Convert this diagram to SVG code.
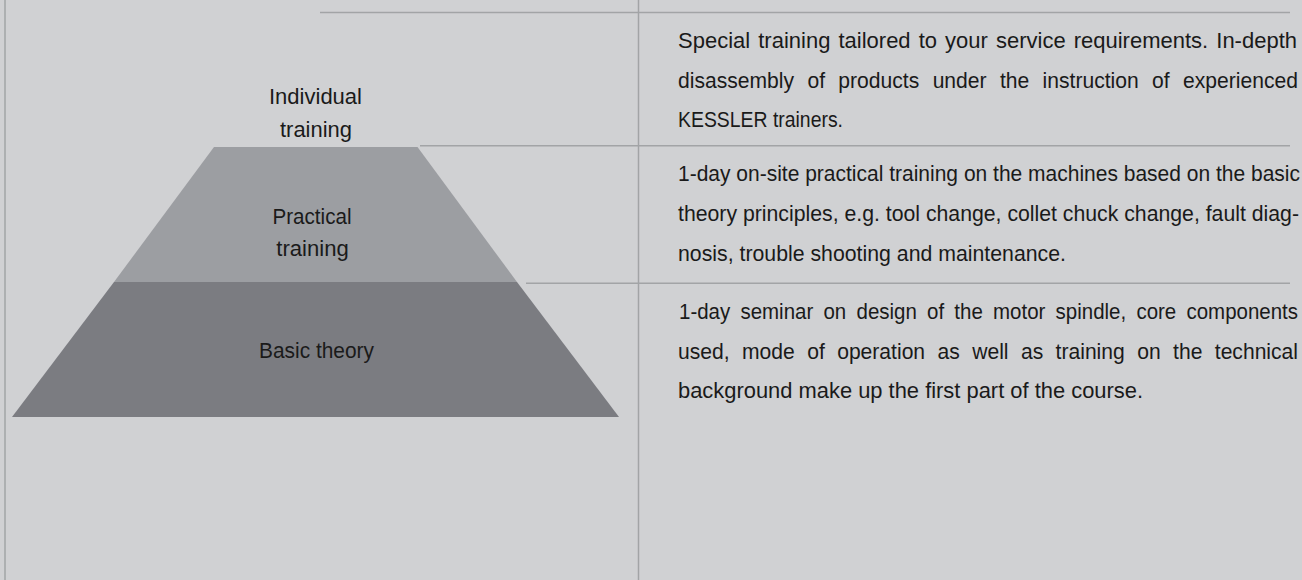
<svg xmlns="http://www.w3.org/2000/svg" width="1302" height="580" viewBox="0 0 1302 580">
<style>
.bg{fill:#d0d1d3}
.rule{stroke:#a2a4a6;stroke-width:1.5;fill:none}
.t{font-family:"Liberation Sans",Arial,sans-serif;font-size:22.5px;fill:#1a1a1a}
.c{text-anchor:middle}
</style>
<rect class="bg" x="0" y="0" width="1302" height="580"/>
<g id="connectors">
<line class="rule" x1="5" y1="0" x2="5" y2="580"/>
<line class="rule" x1="638.5" y1="0" x2="638.5" y2="580"/>
<line class="rule" x1="320" y1="12.5" x2="1290" y2="12.5"/>
<line class="rule" x1="420" y1="145.8" x2="1290" y2="145.8"/>
<line class="rule" x1="526" y1="283.3" x2="1290" y2="283.3"/>
</g>
<g id="individual-training">
<text class="t c" x="315.5" y="104.3" textLength="93" lengthAdjust="spacingAndGlyphs">Individual</text>
<text class="t c" x="316" y="136.5" textLength="72" lengthAdjust="spacingAndGlyphs">training</text>
</g>
<g id="practical-training">
<polygon points="214,147 417.5,147 517,282 114,282" fill="#9c9ea2"/>
<text class="t c" x="312" y="224" textLength="79" lengthAdjust="spacingAndGlyphs">Practical</text>
<text class="t c" x="312.5" y="256" textLength="72.5" lengthAdjust="spacingAndGlyphs">training</text>
</g>
<g id="basic-theory">
<polygon points="114,282 517,282 619,417 12,417" fill="#7b7c81"/>
<text class="t c" x="316.5" y="358.3" textLength="115" lengthAdjust="spacingAndGlyphs">Basic theory</text>
</g>
<g id="desc-individual">
<text class="t" x="678" y="48.3" textLength="619" lengthAdjust="spacingAndGlyphs" word-spacing="2">Special training tailored to your service requirements. In-depth</text>
<text class="t" x="678" y="87.5" textLength="620" lengthAdjust="spacingAndGlyphs" word-spacing="8">disassembly of products under the instruction of experienced</text>
<text class="t" x="678" y="126.7" textLength="165" lengthAdjust="spacingAndGlyphs">KESSLER trainers.</text>
</g>
<g id="desc-practical">
<text class="t" x="678" y="181" textLength="622" lengthAdjust="spacingAndGlyphs">1-day on-site practical training on the machines based on the basic</text>
<text class="t" x="678" y="220.7" textLength="621" lengthAdjust="spacingAndGlyphs">theory principles, e.g. tool change, collet chuck change, fault diag-</text>
<text class="t" x="678" y="260.5" textLength="388" lengthAdjust="spacingAndGlyphs">nosis, trouble shooting and maintenance.</text>
</g>
<g id="desc-basic">
<text class="t" x="679" y="319" textLength="619" lengthAdjust="spacingAndGlyphs" word-spacing="5">1-day seminar on design of the motor spindle, core components</text>
<text class="t" x="678" y="358.5" textLength="620" lengthAdjust="spacingAndGlyphs" word-spacing="7">used, mode of operation as well as training on the technical</text>
<text class="t" x="678" y="398" textLength="465" lengthAdjust="spacingAndGlyphs">background make up the first part of the course.</text>
</g>
</svg>
